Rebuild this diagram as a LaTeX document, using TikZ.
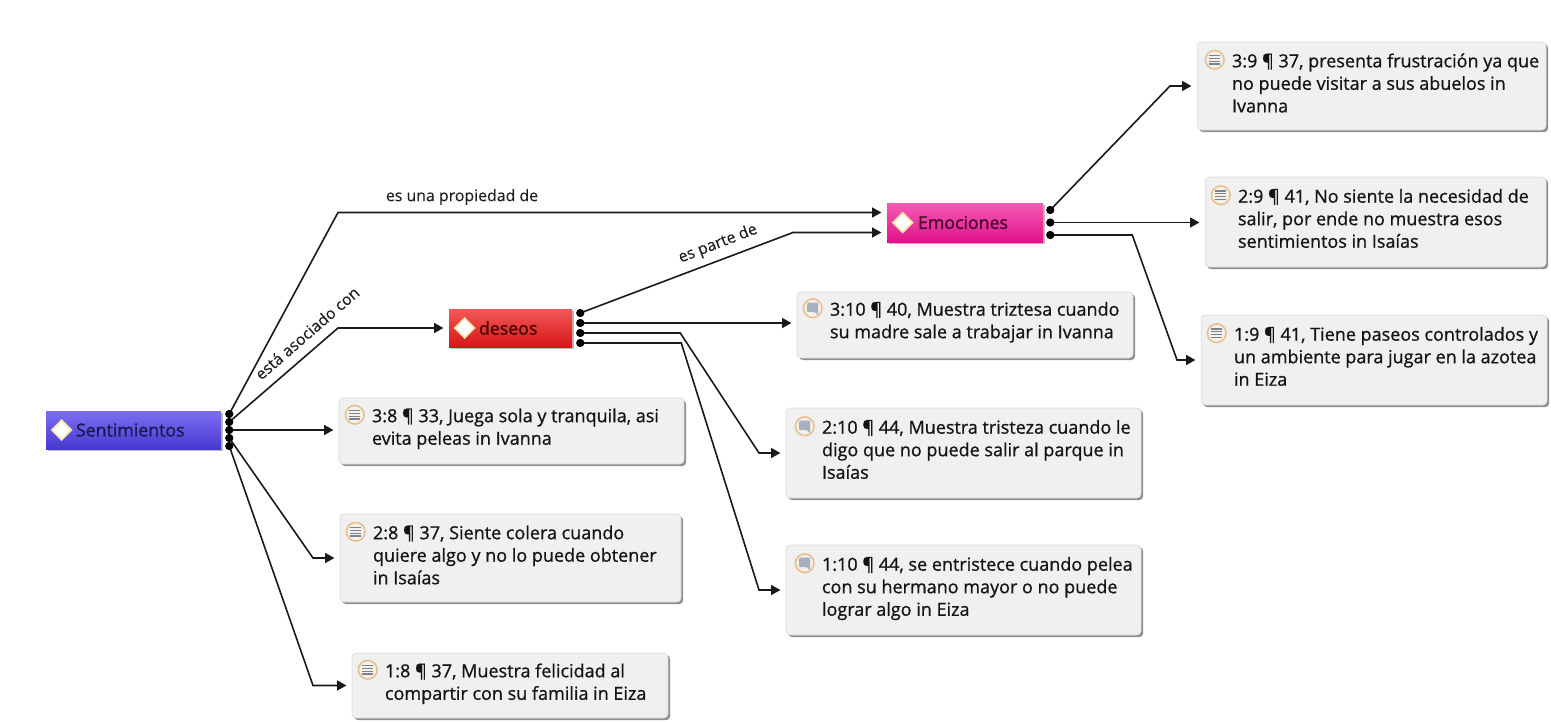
\documentclass[tikz,border=0pt]{standalone}
\usepackage{fontspec}
\setmainfont{Open Sans}
\newfontfamily\cfont[FakeBold=1.4]{Open Sans}
\newfontfamily\qfont[FakeBold=0.8]{Open Sans}
\newfontfamily\lfont[FakeBold=0.3]{Open Sans}
\usetikzlibrary{calc,arrows.meta,shadows}
\definecolor{qfill}{HTML}{F0F0F0}
\definecolor{qborder}{HTML}{D8D8D8}
\definecolor{iconfill}{HTML}{F4F0EA}
\definecolor{iconring}{HTML}{E6C08E}
\definecolor{icongray}{HTML}{7E8090}
\definecolor{chatgray}{HTML}{A7AFC2}
\definecolor{sentT}{HTML}{7C6EF2}
\definecolor{sentB}{HTML}{4838D0}
\definecolor{desT}{HTML}{F45858}
\definecolor{desB}{HTML}{D41616}
\definecolor{emoT}{HTML}{F45CB4}
\definecolor{emoB}{HTML}{E0128A}
\definecolor{sentTxt}{HTML}{1C1A52}
\definecolor{desTxt}{HTML}{4C0606}
\definecolor{emoTxt}{HTML}{4E0632}
\definecolor{lineC}{HTML}{1A1A1A}
\definecolor{diamglow}{HTML}{F3E3A6}
\begin{document}
\begin{tikzpicture}[x=0.75pt,y=-0.75pt,
  qbox/.style 2 args={rectangle, rounded corners=3pt, fill=qfill, draw=qborder, line width=0.4pt,
    minimum width=#1*0.75pt, minimum height=#2*0.75pt, inner sep=0pt,
    drop shadow={shadow xshift=1.6pt, shadow yshift=-1.6pt, fill=black!80, opacity=0.55}},
  cbox/.style 2 args={rectangle, minimum width=#1*0.75pt, minimum height=#2*0.75pt, inner sep=0pt,
    drop shadow={shadow xshift=1.2pt, shadow yshift=-1.5pt, fill=black!60, opacity=0.45}},
  qtxt/.style={align=left, inner sep=0pt, anchor=north west, font=\qfont\fontsize{13.5}{16.9}\selectfont, text=black!92},
  ctxt/.style={inner sep=0pt, font=\cfont\fontsize{13.3}{15}\selectfont},
  lbl/.style={inner sep=0pt, font=\lfont\fontsize{11.9}{13}\selectfont, text=black!88},
  dot/.style={circle, fill=black, inner sep=0pt, minimum size=6pt},
  conn/.style={draw=lineC, line width=1.2pt, -{Triangle[length=7pt,width=7.5pt]}, shorten >=4pt},
  docicon/.pic={
    \fill[iconfill] (0,0) circle (7pt);
    \draw[iconring, line width=1.2pt] (0,0) circle (7pt);
    \foreach \yy in {-4.2,-1.4,1.4,4.2} \draw[icongray, line width=0.9pt] (-5.5,\yy) -- (5.5,\yy);
  },
  chaticon/.pic={
    \fill[iconfill] (0,0) circle (7pt);
    \draw[iconring, line width=1.2pt] (0,0) circle (7pt);
    \fill[chatgray, rounded corners=0.6pt] (-5.5,-5.5) rectangle (5.5,4);
    \fill[chatgray] (1,3) -- (5.5,3) -- (5.5,7) -- cycle;
  },
  diam/.pic={
    \fill[diamglow] (0,-11) -- (11,0) -- (0,11) -- (-11,0) -- cycle;
    \fill[white] (0,-8.5) -- (8.5,0) -- (0,8.5) -- (-8.5,0) -- cycle;
  }
]
\useasboundingbox (0,0) rectangle (1551,721);
\fill[white] (0,0) rectangle (1551,721);

% concept nodes
\node[cbox={175}{38}, top color=sentT, bottom color=sentB] (sent) at (133.5,430) {};
\node[cbox={123}{38}, top color=desT, bottom color=desB] (des) at (510.5,328) {};
\node[cbox={156}{39}, top color=emoT, bottom color=emoB] (emo) at (965,222.5) {};
\pic at ($(sent.west)+(16,0)$) {diam};
\pic at ($(des.west)+(16,0)$) {diam};
\pic at ($(emo.west)+(16,0)$) {diam};
\node[ctxt, text=sentTxt, anchor=west] (sentl) at ($(sent.west)+(30,0)$) {Sentimientos};
\node[ctxt, text=desTxt, anchor=west] (desl) at ($(des.west)+(30,0)$) {deseos};
\node[ctxt, text=emoTxt, anchor=west] (emol) at ($(emo.west)+(31,0)$) {Emociones};

% quotation boxes
\node[qbox={349}{88}] (q39) at (1371.5,86) {};
\node[qbox={341}{90}] (q29) at (1375.5,222) {};
\node[qbox={346}{90}] (q19) at (1374,360) {};
\node[qbox={336}{66}] (q310) at (965,325) {};
\node[qbox={355}{90}] (q210) at (963.5,453) {};
\node[qbox={355}{90}] (q110) at (963.5,590) {};
\node[qbox={345}{66}] (q38) at (511.5,431) {};
\node[qbox={341}{88}] (q28) at (510.5,558) {};
\node[qbox={316}{65}] (q18) at (510,685.5) {};

\node[qtxt] (t39) at ($(q39.north west)+(35,11.5)$) {3:9 ¶ 37, presenta frustración ya que\\no puede visitar a sus abuelos in\\Ivanna};
\node[qtxt] (t29) at ($(q29.north west)+(33,12)$) {2:9 ¶ 41, No siente la necesidad de\\salir, por ende no muestra esos\\sentimientos in Isaías};
\node[qtxt] (t19) at ($(q19.north west)+(33,12)$) {1:9 ¶ 41, Tiene paseos controlados y\\un ambiente para jugar en la azotea\\in Eiza};
\node[qtxt] (t310) at ($(q310.north west)+(33,10)$) {3:10 ¶ 40, Muestra triztesa cuando\\su madre sale a trabajar in Ivanna};
\node[qtxt] (t210) at ($(q210.north west)+(36,12)$) {2:10 ¶ 44, Muestra tristeza cuando le\\digo que no puede salir al parque in\\Isaías};
\node[qtxt] (t110) at ($(q110.north west)+(36,12)$) {1:10 ¶ 44, se entristece cuando pelea\\con su hermano mayor o no puede\\lograr algo in Eiza};
\node[qtxt] (t38) at ($(q38.north west)+(33,10.5)$) {3:8 ¶ 33, Juega sola y tranquila, asi\\evita peleas in Ivanna};
\node[qtxt] (t28) at ($(q28.north west)+(33,11.5)$) {2:8 ¶ 37, Siente colera cuando\\quiere algo y no lo puede obtener\\in Isaías};
\node[qtxt] (t18) at ($(q18.north west)+(33,10.5)$) {1:8 ¶ 37, Muestra felicidad al\\compartir con su familia in Eiza};

\pic at ($(t39.north west)+(-17,6.5)$) {docicon};
\pic at ($(t29.north west)+(-17,6.5)$) {docicon};
\pic at ($(t19.north west)+(-17,6.5)$) {docicon};
\pic at ($(t38.north west)+(-17,6.5)$) {docicon};
\pic at ($(t28.north west)+(-17,6.5)$) {docicon};
\pic at ($(t18.north west)+(-17,6.5)$) {docicon};
\pic at ($(t310.north west)+(-17,6.5)$) {chaticon};
\pic at ($(t210.north west)+(-17,6.5)$) {chaticon};
\pic at ($(t110.north west)+(-17,6.5)$) {chaticon};

% connection dots
\node[dot] (sd1) at ($(sent.east)+(8,-16)$) {};
\node[dot] (sd2) at ($(sent.east)+(8,-8)$) {};
\node[dot] (sd3) at ($(sent.east)+(8,0)$) {};
\node[dot] (sd4) at ($(sent.east)+(8,8)$) {};
\node[dot] (sd5) at ($(sent.east)+(8,16)$) {};
\node[dot] (dd1) at ($(des.east)+(8,-15)$) {};
\node[dot] (dd2) at ($(des.east)+(8,-5)$) {};
\node[dot] (dd3) at ($(des.east)+(8,5)$) {};
\node[dot] (dd4) at ($(des.east)+(8,15)$) {};
\node[dot] (ed1) at ($(emo.east)+(7,-12.5)$) {};
\node[dot] (ed2) at ($(emo.east)+(7,0)$) {};
\node[dot] (ed3) at ($(emo.east)+(7,12.5)$) {};

% bend points
\coordinate (kProp) at (338,212.5);
\coordinate (kAsoc) at (338,328);
\coordinate (kQ28) at (313,558);
\coordinate (kQ18) at (313,685.5);
\coordinate (kParte) at (793,232.5);
\coordinate (kQ210a) at ($(dd3.center)+(100,0)$);
\coordinate (kQ210b) at (759,453);
\coordinate (kQ110a) at ($(dd4.center)+(101,0)$);
\coordinate (kQ110b) at (759,590);
\coordinate (kQ39) at (1170,86);
\coordinate (kQ19a) at ($(ed3.center)+(82,0)$);
\coordinate (kQ19b) at (1177,360);

% connectors
\draw[conn] (sd1.center) -- (kProp) -- ($(emo.west)+(0,-10)$);
\draw[conn] (sd2.center) -- (kAsoc) -- (des.west);
\draw[conn] (sd3.center) -- (sd3.center -| q38.west);
\draw[conn] (sd4.center) -- (kQ28) -- (q28.west);
\draw[conn] (sd5.center) -- (kQ18) -- (q18.west);
\draw[conn] (dd1.center) -- (kParte) -- ($(emo.west)+(0,10)$);
\draw[conn] (dd2.center) -- (dd2.center -| q310.west);
\draw[conn] (dd3.center) -- (kQ210a) -- (kQ210b) -- (q210.west);
\draw[conn] (dd4.center) -- (kQ110a) -- (kQ110b) -- (q110.west);
\draw[conn] (ed1.center) -- (kQ39) -- (q39.west);
\draw[conn] (ed2.center) -- (ed2.center -| q29.west);
\draw[conn] (ed3.center) -- (kQ19a) -- (kQ19b) -- (q19.west);

% redraw dots on top
\foreach \d in {sd1,sd2,sd3,sd4,sd5,dd1,dd2,dd3,dd4,ed1,ed2,ed3}
  \fill[black] (\d) circle (3pt);

% link labels
\node[lbl] (lprop) at (462,197) {es una propiedad de};
\node[lbl, rotate=41] (lasoc) at (307,333) {está asociado con};
\node[lbl, rotate=21] (lparte) at (718,244) {es parte de};
\end{tikzpicture}
\end{document}
